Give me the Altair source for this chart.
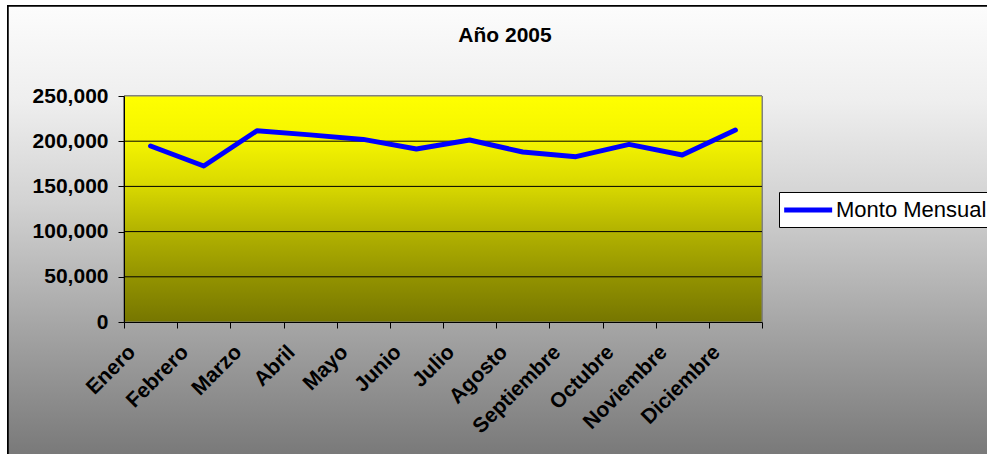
import json
import altair as alt
import pandas as pd

months = ["Enero", "Febrero", "Marzo", "Abril", "Mayo", "Junio", "Julio",
          "Agosto", "Septiembre", "Octubre", "Noviembre", "Diciembre"]
values = [194700, 172600, 211600, 207000, 202000, 191400, 201300,
          188000, 182900, 196500, 184700, 212400]
series_name = "Monto Mensual"
y_ticks = [0, 50000, 100000, 150000, 200000, 250000]
grid_values = [50000, 100000, 150000, 200000]

W, H = 638, 226
PAD = {"left": 124, "top": 96, "right": 225, "bottom": 132}
FONT = "Liberation Sans"

df = pd.DataFrame({
    "pos": [i + 0.5 for i in range(len(months))],
    "mes": months,
    "monto": values,
    "serie": [series_name] * len(months),
})
grid_df = pd.DataFrame({"v": grid_values})

x_scale = alt.Scale(domain=[0, len(months)], nice=False, zero=False)
y_scale = alt.Scale(domain=[0, 250000], nice=False)

month_expr = "(" + json.dumps(months, ensure_ascii=False) + ")"
x_axis = alt.Axis(
    values=list(range(len(months) + 1)),
    labelExpr=f"datum.value < {len(months)} ? {month_expr}[datum.value] : ''",
    labelAngle=315, labelAlign="right", labelBaseline="top",
    labelOffset=0, labelPadding=13,
    labelFont=FONT, labelFontSize=21, labelFontWeight="bold", labelColor="black",
    labelOverlap=False, labelFlush=False, labelBound=False,
    tickSize=6, tickColor="black", domainColor="black", grid=False,
    title=None, zindex=1,
)
y_axis = alt.Axis(
    values=y_ticks,
    labelExpr="format(datum.value, ',')",
    labelFont=FONT, labelFontSize=21, labelFontWeight="bold", labelColor="black",
    labelPadding=10, tickSize=6, tickColor="black", domainColor="black",
    grid=False, title=None, zindex=1,
)

base = alt.Chart(df)

outer_bg = base.mark_rect(
    fill=alt.Gradient(
        gradient="linear", x1=0, x2=0, y1=0, y2=1,
        stops=[
            alt.GradientStop(offset=0, color="#fcfcfc"),
            alt.GradientStop(offset=0.21, color="#eeeeee"),
            alt.GradientStop(offset=0.43, color="#d2d2d2"),
            alt.GradientStop(offset=0.70, color="#a5a5a5"),
            alt.GradientStop(offset=1, color="#767676"),
        ],
    ),
    stroke="black", strokeWidth=1.5,
).encode(
    x=alt.value(8 - PAD["left"]), x2=alt.value(W + PAD["right"] + 20),
    y=alt.value(6 - PAD["top"]), y2=alt.value(H + PAD["bottom"] + 10),
)

plot_bg = base.mark_rect(
    fill=alt.Gradient(
        gradient="linear", x1=0, x2=0, y1=0, y2=1,
        stops=[
            alt.GradientStop(offset=0, color="#ffff00"),
            alt.GradientStop(offset=0.2, color="#f4f400"),
            alt.GradientStop(offset=0.4, color="#d8d800"),
            alt.GradientStop(offset=0.6, color="#b2b200"),
            alt.GradientStop(offset=0.8, color="#939300"),
            alt.GradientStop(offset=1, color="#767600"),
        ],
    ),
    stroke="#808080", strokeWidth=1,
).encode(
    x=alt.datum(0, type="quantitative", scale=x_scale, axis=x_axis),
    x2=alt.datum(len(months)),
    y=alt.datum(0, type="quantitative", scale=y_scale, axis=y_axis),
    y2=alt.datum(250000),
)

grid = alt.Chart(grid_df).mark_rule(color="black", strokeWidth=1).encode(
    y=alt.Y("v:Q", scale=y_scale, axis=y_axis),
)

line = base.mark_line(strokeWidth=5, strokeCap="round", strokeJoin="round").encode(
    x=alt.X("pos:Q", scale=x_scale, axis=x_axis),
    y=alt.Y("monto:Q", scale=y_scale, axis=y_axis),
    color=alt.Color(
        "serie:N",
        scale=alt.Scale(domain=[series_name], range=["#0000ff"]),
        legend=alt.Legend(
            title=None, orient="none", legendX=655, legendY=96,
            fillColor="white", strokeColor="black", padding=6,
            symbolType="M-1.35,0H3.7", symbolSize=361, symbolStrokeWidth=5,
            symbolFillColor="transparent",
            labelFont=FONT, labelFontSize=22, labelColor="black", labelOffset=27,
        ),
    ),
)

chart = alt.layer(outer_bg, plot_bg, grid, line).properties(
    width=W, height=H,
    padding=PAD,
    autosize=alt.AutoSizeParams(type="none"),
    background="white",
    title=alt.TitleParams(
        "Año 2005", anchor="middle", frame="group", dx=62, offset=-58,
        baseline="alphabetic",
        font=FONT, fontSize=21, fontWeight="bold", color="black",
    ),
).configure_view(stroke=None)

chart.save("out.html", embed_options={"renderer": "svg", "actions": False})
